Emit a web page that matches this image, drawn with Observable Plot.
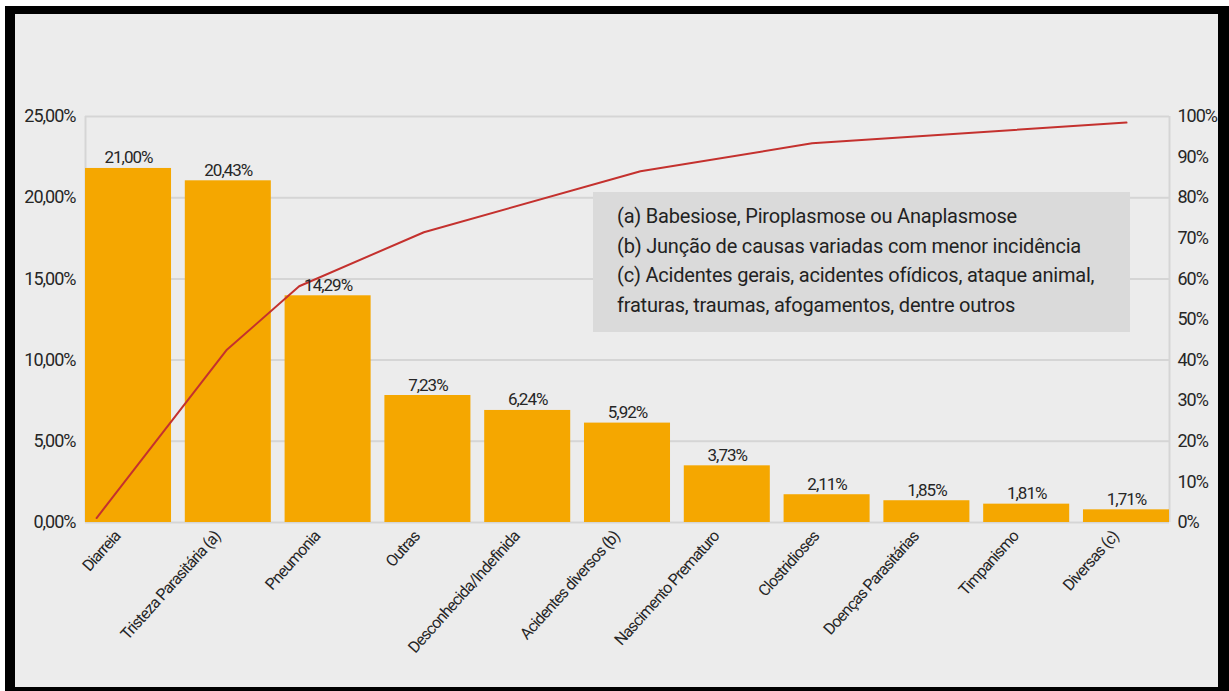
<!DOCTYPE html>
<html><head><meta charset="utf-8">
<script src="https://cdn.jsdelivr.net/npm/d3@7"></script>
<script src="https://cdn.jsdelivr.net/npm/@observablehq/plot@0.6"></script>
<style>
html,body{margin:0;padding:0;background:#fff;width:1229px;height:691px;overflow:hidden;}
#frame{position:absolute;left:5px;top:6px;width:1203px;height:673px;border-style:solid;border-color:#000;border-width:8px 11px 4px 10px;background:#ececec;}
#chart{position:absolute;left:0;top:0;}
#chart svg text{letter-spacing:-1px;}
#chart svg g.xlab text{letter-spacing:-0.9px;}
#note{position:absolute;left:577.5px;top:178px;width:537.5px;height:140px;background:#dadada;font-family:Roboto,sans-serif;font-size:20px;line-height:29.5px;color:#222;padding:10px 0 0 24.5px;box-sizing:border-box;letter-spacing:-0.2px;white-space:nowrap;}
</style>
</head><body>
<div id="frame">
  <div id="chart"></div>
  <div id="note">
    <div>(a) Babesiose, Piroplasmose ou Anaplasmose</div>
    <div>(b) Junção de causas variadas com menor incidência</div>
    <div>(c) Acidentes gerais, acidentes ofídicos, ataque animal,</div>
    <div>fraturas, traumas, afogamentos, dentre outros</div>
  </div>
</div>
<script>
const categories = ["Diarreia","Tristeza Parasitária (a)","Pneumonia","Outras","Desconhecida/Indefinida","Acidentes diversos (b)","Nascimento Prematuro","Clostridioses","Doenças Parasitárias","Timpanismo","Diversas (c)"];
const barValues = [21.8, 21.04, 13.96, 7.82, 6.90, 6.12, 3.49, 1.71, 1.34, 1.13, 0.78];
const barLabels = ["21,00%","20,43%","14,29%","7,23%","6,24%","5,92%","3,73%","2,11%","1,85%","1,81%","1,71%"];
// cumulative line (right axis, %), x in category-index units
const lineX = [-0.32, 0.98, 1.71, 2.96, 5.13, 6.85, 10.0];
const lineY = [1.1, 42.4, 58.2, 71.5, 86.5, 93.4, 98.5];
const leftTicks = [0, 5, 10, 15, 20, 25];
const rightTicks = [0, 10, 20, 30, 40, 50, 60, 70, 80, 90, 100];

const half = 0.431;
const bars = categories.map((c, i) => ({i, c, v: barValues[i], label: barLabels[i]}));
const line = lineX.map((x, k) => ({x, y: lineY[k] * 25 / 100}));

const chart = Plot.plot({
  width: 1203, height: 673,
  marginLeft: 70, marginRight: 49, marginTop: 102, marginBottom: 165,
  style: {background: "transparent", fontFamily: "Roboto, sans-serif", fontSize: "18px", color: "#262626"},
  x: {type: "linear", domain: [-half, categories.length - 1 + half]},
  y: {domain: [0, 25]},
  marks: [
    Plot.gridY(leftTicks, {stroke: "#d5d5d5", strokeOpacity: 1, strokeWidth: 2}),
    Plot.ruleX([-half, categories.length - 1 + half], {stroke: "#d5d5d5", strokeWidth: 2}),
    Plot.rectY(bars, {x1: d => d.i - half, x2: d => d.i + half, y1: 0, y2: "v", fill: "#f5a700"}),
    Plot.line(line, {x: "x", y: "y", stroke: "#c4312e", strokeWidth: 2}),
    Plot.text(bars, {x: "i", y: "v", text: "label", dy: -5, lineAnchor: "bottom", fill: "#262626", fontSize: 17}),
    Plot.axisY(leftTicks, {anchor: "left", tickSize: 0, tickPadding: 10, label: null,
      tickFormat: d => d.toFixed(2).replace(".", ",") + "%"}),
    Plot.axisY(rightTicks.map(d => d / 4), {anchor: "right", tickSize: 0, tickPadding: 8, label: null,
      tickFormat: d => Math.round(d * 4) + "%"}),
    Plot.axisX(d3.range(categories.length), {tickSize: 0, tickPadding: 11, tickRotate: -48, label: null,
      fontSize: 16, className: "xlab", tickFormat: i => categories[i], dx: -11})
  ]
});
document.getElementById("chart").appendChild(chart);
</script>
</body></html>
